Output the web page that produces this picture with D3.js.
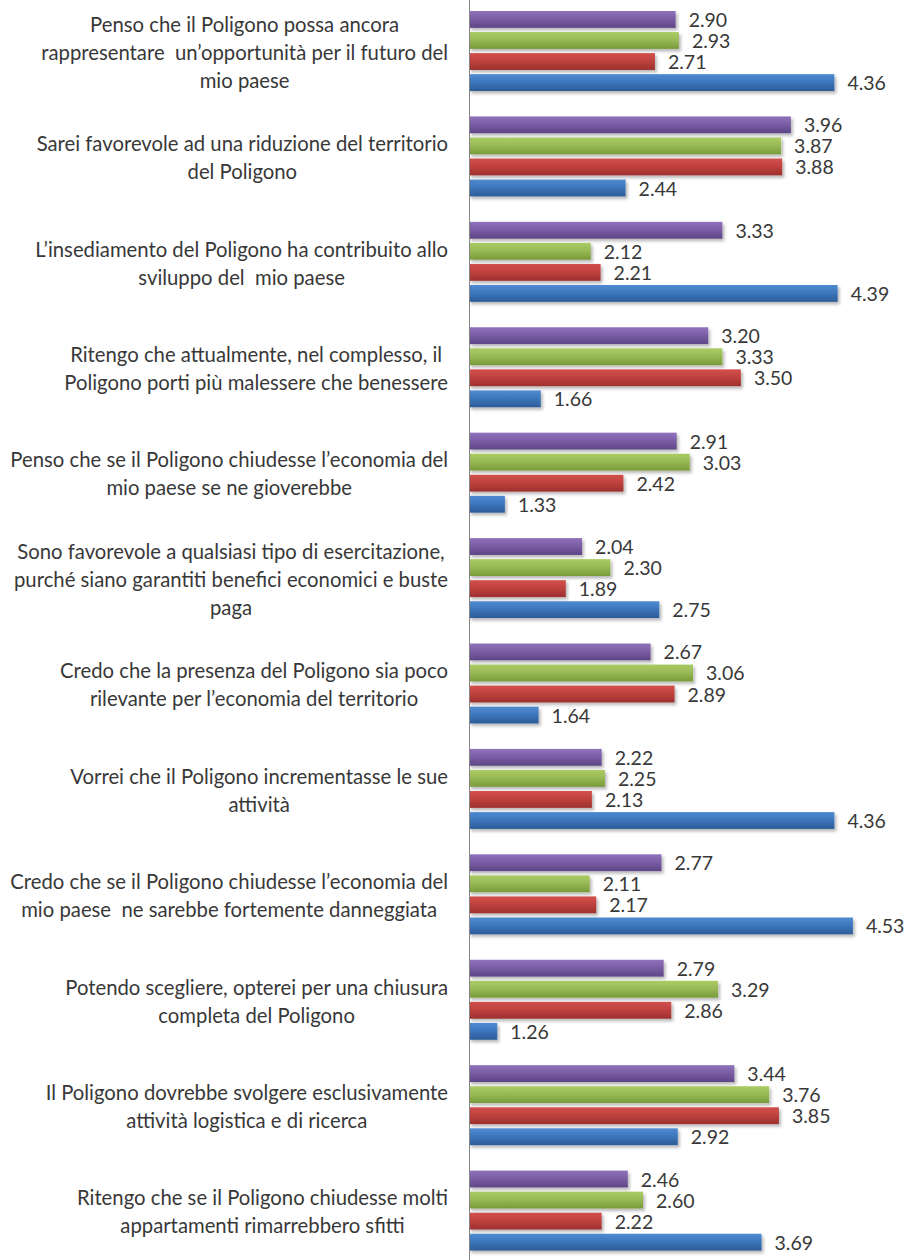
<!DOCTYPE html>
<html>
<head>
<meta charset="utf-8"/>
<script src="https://cdnjs.cloudflare.com/ajax/libs/d3/7.8.5/d3.min.js"></script>
<style>
  body { margin: 0; background: #fff; }
  text { font-family: Lato, "Open Sans", sans-serif; fill: #383838; white-space: pre; }
</style>
</head>
<body>
<script>
// categories (each one already broken into its lines, as in the chart)
const categories = [
  ["Penso che il Poligono possa ancora", "rappresentare  un’opportunità per il futuro del", "mio paese"],
  ["Sarei favorevole ad una riduzione del territorio", "del Poligono"],
  ["L’insediamento del Poligono ha contribuito allo", "sviluppo del  mio paese"],
  ["Ritengo che attualmente, nel complesso, il", "Poligono porti più malessere che benessere"],
  ["Penso che se il Poligono chiudesse l’economia del", "mio paese se ne gioverebbe"],
  ["Sono favorevole a qualsiasi tipo di esercitazione,", "purché siano garantiti benefici economici e buste", "paga"],
  ["Credo che la presenza del Poligono sia poco", "rilevante per l’economia del territorio"],
  ["Vorrei che il Poligono incrementasse le sue", "attività"],
  ["Credo che se il Poligono chiudesse l’economia del", "mio paese  ne sarebbe fortemente danneggiata"],
  ["Potendo scegliere, opterei per una chiusura", "completa del Poligono"],
  ["Il Poligono dovrebbe svolgere esclusivamente", "attività logistica e di ricerca"],
  ["Ritengo che se il Poligono chiudesse molti", "appartamenti rimarrebbero sfitti"]
];

const seriesKeys = ["s1", "s2", "s3", "s4"];

// values per series, one per category (top to bottom)
const purpleValues = [2.90, 3.96, 3.33, 3.20, 2.91, 2.04, 2.67, 2.22, 2.77, 2.79, 3.44, 2.46];
const greenValues  = [2.93, 3.87, 2.12, 3.33, 3.03, 2.30, 3.06, 2.25, 2.11, 3.29, 3.76, 2.60];
const redValues    = [2.71, 3.88, 2.21, 3.50, 2.42, 1.89, 2.89, 2.13, 2.17, 2.86, 3.85, 2.22];
const blueValues   = [4.36, 2.44, 4.39, 1.66, 1.33, 2.75, 1.64, 4.36, 4.53, 1.26, 2.92, 3.69];

const width = 908, height = 1260;

const svg = d3.select("body").append("svg")
  .attr("width", width)
  .attr("height", height);

const defs = svg.append("defs");

const palette = {
  s1: ["#8f72bb", "#7b5ea6", "#5d4585"],
  s2: ["#aacc62", "#9aba57", "#789a39"],
  s3: ["#d2504c", "#c0423f", "#9c302e"],
  s4: ["#4f8bd0", "#3e77bd", "#2c5b98"]
};

seriesKeys.forEach(k => {
  const g = defs.append("linearGradient")
    .attr("id", "grad-" + k)
    .attr("x1", 0).attr("y1", 0).attr("x2", 0).attr("y2", 1);
  g.append("stop").attr("offset", "0%").attr("stop-color", palette[k][0]);
  g.append("stop").attr("offset", "45%").attr("stop-color", palette[k][1]);
  g.append("stop").attr("offset", "100%").attr("stop-color", palette[k][2]);
});

const shadow = defs.append("filter").attr("id", "shadow")
  .attr("x", "-5%").attr("y", "-20%").attr("width", "115%").attr("height", "160%");
shadow.append("feDropShadow")
  .attr("dx", 2).attr("dy", 2.5).attr("stdDeviation", 1.5)
  .attr("flood-color", "#000").attr("flood-opacity", 0.28);

const data = categories.map((lines, i) => ({
  lines,
  values: [
    {key: "s1", value: purpleValues[i]},
    {key: "s2", value: greenValues[i]},
    {key: "s3", value: redValues[i]},
    {key: "s4", value: blueValues[i]}
  ]
}));

const y0 = d3.scaleBand()
  .domain(d3.range(categories.length))
  .range([0, 1265]);

const y1 = d3.scaleBand()
  .domain(seriesKeys)
  .range([11, 91])
  .paddingInner(0.2);

const x = d3.scaleLinear()
  .domain([1, 5])
  .range([469, 904]);

const groups = svg.append("g")
  .selectAll("g")
  .data(data)
  .join("g")
  .attr("transform", (d, i) => `translate(0,${y0(i)})`);

groups.selectAll("rect")
  .data(d => d.values)
  .join("rect")
  .attr("x", x(1))
  .attr("y", d => y1(d.key))
  .attr("width", d => x(d.value) - x(1))
  .attr("height", y1.bandwidth())
  .attr("fill", d => `url(#grad-${d.key})`)
  .attr("filter", "url(#shadow)");

groups.selectAll("text.val")
  .data(d => d.values)
  .join("text")
  .attr("class", "val")
  .attr("x", d => x(d.value) + 13)
  .attr("y", d => y1(d.key) + y1.bandwidth() / 2 + 0.5)
  .attr("dy", "0.36em")
  .attr("font-size", 19.5)
  .text(d => d.value.toFixed(2));

// category labels: block right-aligned to the axis, lines centred in the block
const lineH = 28;
const labelRight = 448;
groups.each(function(d) {
  const g = d3.select(this);
  const n = d.lines.length;
  const cy = 52.5;
  const t = g.append("g").attr("class", "cat");
  const texts = t.selectAll("text")
    .data(d.lines)
    .join("text")
    .attr("font-size", 20.3)
    .attr("text-anchor", "middle")
    .attr("y", (l, j) => cy + (j - (n - 1) / 2) * lineH)
    .attr("dy", "0.36em")
    .text(l => l);
  let maxW = 0;
  texts.each(function() { maxW = Math.max(maxW, this.getComputedTextLength()); });
  texts.attr("x", labelRight - maxW / 2);
});

// axis line
svg.append("line")
  .attr("x1", x(1) + 0.5).attr("x2", x(1) + 0.5)
  .attr("y1", 0).attr("y2", height)
  .attr("stroke", "#868686")
  .attr("stroke-width", 1);
</script>
</body>
</html>
